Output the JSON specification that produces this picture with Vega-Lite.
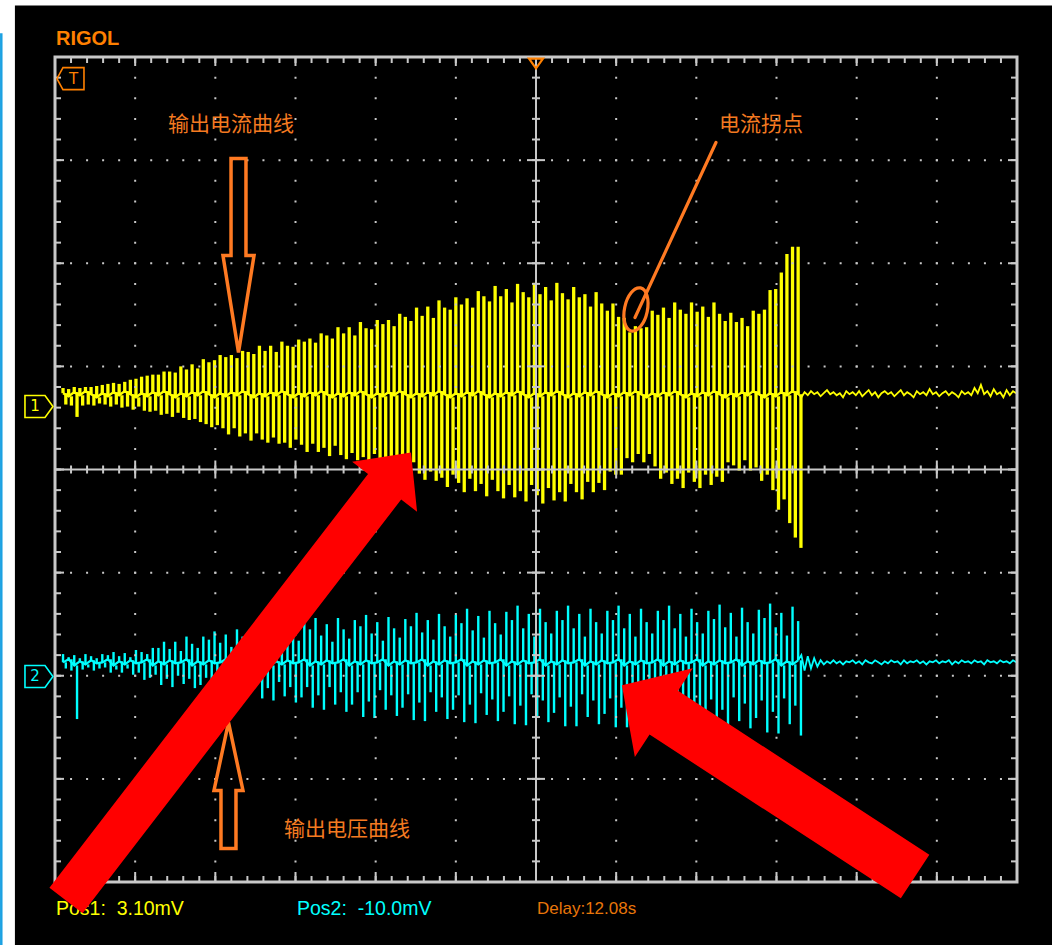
{
"$schema": "https://vega.github.io/schema/vega-lite/v6.json",
"width": 962, "height": 825,
"autosize": {"type": "none"},
"padding": {"left": 55, "top": 57, "right": 35, "bottom": 63},
"background": "white",
"config": {"view": {"stroke": null}, "axis": {"disable": true}, "legend": {"disable": true}},
"datasets": {
"ch1s": [
{"t":0.10,"b":0.74,"hi":0.79,"lo":0.63},{"t":0.17,"b":0.71,"hi":0.78,"lo":0.62},{"t":0.24,"b":0.75,"hi":0.80,"lo":0.51},{"t":0.31,"b":0.72,"hi":0.79,"lo":0.62},{"t":0.38,"b":0.76,"hi":0.80,"lo":0.63},{"t":0.45,"b":0.73,"hi":0.80,"lo":0.62},{"t":0.52,"b":0.70,"hi":0.81,"lo":0.64},
{"t":0.59,"b":0.74,"hi":0.82,"lo":0.63},{"t":0.66,"b":0.71,"hi":0.83,"lo":0.61},{"t":0.73,"b":0.75,"hi":0.84,"lo":0.63},{"t":0.80,"b":0.72,"hi":0.83,"lo":0.60},{"t":0.87,"b":0.76,"hi":0.85,"lo":0.61},{"t":0.94,"b":0.73,"hi":0.87,"lo":0.58},{"t":1.01,"b":0.70,"hi":0.88,"lo":0.61},
{"t":1.08,"b":0.74,"hi":0.90,"lo":0.57},{"t":1.15,"b":0.71,"hi":0.91,"lo":0.56},{"t":1.22,"b":0.75,"hi":0.92,"lo":0.57},{"t":1.29,"b":0.72,"hi":0.92,"lo":0.53},{"t":1.36,"b":0.76,"hi":0.95,"lo":0.54},{"t":1.43,"b":0.73,"hi":0.95,"lo":0.51},{"t":1.50,"b":0.70,"hi":0.94,"lo":0.55},
{"t":1.57,"b":0.74,"hi":1.00,"lo":0.50},{"t":1.64,"b":0.71,"hi":0.97,"lo":0.48},{"t":1.71,"b":0.75,"hi":1.02,"lo":0.49},{"t":1.78,"b":0.72,"hi":0.98,"lo":0.46},{"t":1.85,"b":0.76,"hi":1.07,"lo":0.44},{"t":1.92,"b":0.73,"hi":1.04,"lo":0.41},{"t":1.99,"b":0.70,"hi":1.06,"lo":0.43},
{"t":2.06,"b":0.74,"hi":1.11,"lo":0.40},{"t":2.13,"b":0.71,"hi":1.09,"lo":0.34},{"t":2.20,"b":0.75,"hi":1.11,"lo":0.40},{"t":2.27,"b":0.72,"hi":1.08,"lo":0.32},{"t":2.34,"b":0.76,"hi":1.15,"lo":0.35},{"t":2.41,"b":0.73,"hi":1.14,"lo":0.28},{"t":2.48,"b":0.70,"hi":1.12,"lo":0.35},
{"t":2.55,"b":0.74,"hi":1.20,"lo":0.29},{"t":2.62,"b":0.71,"hi":1.15,"lo":0.26},{"t":2.69,"b":0.75,"hi":1.20,"lo":0.31},{"t":2.76,"b":0.72,"hi":1.14,"lo":0.25},{"t":2.83,"b":0.76,"hi":1.24,"lo":0.26},{"t":2.90,"b":0.73,"hi":1.20,"lo":0.21},{"t":2.97,"b":0.70,"hi":1.19,"lo":0.29},
{"t":3.04,"b":0.74,"hi":1.26,"lo":0.24},{"t":3.11,"b":0.71,"hi":1.24,"lo":0.17},{"t":3.18,"b":0.75,"hi":1.27,"lo":0.25},{"t":3.25,"b":0.72,"hi":1.23,"lo":0.17},{"t":3.32,"b":0.76,"hi":1.32,"lo":0.21},{"t":3.39,"b":0.73,"hi":1.30,"lo":0.13},{"t":3.46,"b":0.70,"hi":1.27,"lo":0.23},
{"t":3.53,"b":0.74,"hi":1.38,"lo":0.14},{"t":3.60,"b":0.71,"hi":1.32,"lo":0.10},{"t":3.67,"b":0.75,"hi":1.38,"lo":0.16},{"t":3.74,"b":0.72,"hi":1.30,"lo":0.09},{"t":3.81,"b":0.76,"hi":1.43,"lo":0.12},{"t":3.88,"b":0.73,"hi":1.37,"lo":0.05},{"t":3.95,"b":0.70,"hi":1.36,"lo":0.15},
{"t":4.02,"b":0.74,"hi":1.45,"lo":0.09},{"t":4.09,"b":0.71,"hi":1.41,"lo":0.02},{"t":4.16,"b":0.75,"hi":1.45,"lo":0.12},{"t":4.23,"b":0.72,"hi":1.39,"lo":0.00},{"t":4.30,"b":0.76,"hi":1.51,"lo":0.06},{"t":4.37,"b":0.73,"hi":1.48,"lo":-0.06},{"t":4.44,"b":0.70,"hi":1.44,"lo":0.07},
{"t":4.51,"b":0.74,"hi":1.57,"lo":-0.04},{"t":4.58,"b":0.71,"hi":1.49,"lo":-0.10},{"t":4.65,"b":0.75,"hi":1.58,"lo":-0.02},{"t":4.72,"b":0.72,"hi":1.47,"lo":-0.11},{"t":4.79,"b":0.76,"hi":1.64,"lo":-0.08},{"t":4.86,"b":0.73,"hi":1.57,"lo":-0.17},{"t":4.93,"b":0.70,"hi":1.55,"lo":-0.05},
{"t":5.00,"b":0.74,"hi":1.67,"lo":-0.13},{"t":5.07,"b":0.71,"hi":1.60,"lo":-0.22},{"t":5.14,"b":0.75,"hi":1.66,"lo":-0.09},{"t":5.21,"b":0.72,"hi":1.57,"lo":-0.21},{"t":5.28,"b":0.76,"hi":1.73,"lo":-0.14},{"t":5.35,"b":0.73,"hi":1.68,"lo":-0.26},{"t":5.42,"b":0.70,"hi":1.63,"lo":-0.10},
{"t":5.49,"b":0.74,"hi":1.78,"lo":-0.21},{"t":5.56,"b":0.71,"hi":1.68,"lo":-0.28},{"t":5.63,"b":0.75,"hi":1.75,"lo":-0.15},{"t":5.70,"b":0.72,"hi":1.62,"lo":-0.27},{"t":5.77,"b":0.76,"hi":1.80,"lo":-0.21},{"t":5.84,"b":0.73,"hi":1.72,"lo":-0.31},{"t":5.91,"b":0.70,"hi":1.67,"lo":-0.15},
{"t":5.98,"b":0.74,"hi":1.81,"lo":-0.25},{"t":6.05,"b":0.71,"hi":1.70,"lo":-0.33},{"t":6.12,"b":0.75,"hi":1.77,"lo":-0.18},{"t":6.19,"b":0.72,"hi":1.64,"lo":-0.30},{"t":6.26,"b":0.76,"hi":1.81,"lo":-0.22},{"t":6.33,"b":0.73,"hi":1.71,"lo":-0.31},{"t":6.40,"b":0.70,"hi":1.65,"lo":-0.14},
{"t":6.47,"b":0.74,"hi":1.77,"lo":-0.22},{"t":6.54,"b":0.71,"hi":1.67,"lo":-0.29},{"t":6.61,"b":0.75,"hi":1.70,"lo":-0.12},{"t":6.68,"b":0.72,"hi":1.58,"lo":-0.22},{"t":6.75,"b":0.76,"hi":1.72,"lo":-0.13},{"t":6.82,"b":0.73,"hi":1.61,"lo":-0.20},{"t":6.89,"b":0.70,"hi":1.54,"lo":-0.02},
{"t":6.96,"b":0.74,"hi":1.61,"lo":-0.05},{"t":7.03,"b":0.71,"hi":1.48,"lo":-0.05},{"t":7.10,"b":0.75,"hi":1.47,"lo":0.11},{"t":7.17,"b":0.72,"hi":1.33,"lo":0.07},{"t":7.24,"b":0.76,"hi":1.39,"lo":0.15},{"t":7.31,"b":0.73,"hi":1.37,"lo":0.07},{"t":7.38,"b":0.70,"hi":1.38,"lo":0.15},
{"t":7.45,"b":0.74,"hi":1.54,"lo":0.03},{"t":7.52,"b":0.71,"hi":1.50,"lo":-0.09},{"t":7.59,"b":0.75,"hi":1.57,"lo":-0.03},{"t":7.66,"b":0.72,"hi":1.47,"lo":-0.14},{"t":7.73,"b":0.76,"hi":1.62,"lo":-0.09},{"t":7.80,"b":0.73,"hi":1.55,"lo":-0.18},{"t":7.87,"b":0.70,"hi":1.51,"lo":-0.03},
{"t":7.94,"b":0.74,"hi":1.62,"lo":-0.12},{"t":8.01,"b":0.71,"hi":1.53,"lo":-0.18},{"t":8.08,"b":0.75,"hi":1.58,"lo":-0.05},{"t":8.15,"b":0.72,"hi":1.48,"lo":-0.15},{"t":8.22,"b":0.76,"hi":1.62,"lo":-0.07},{"t":8.29,"b":0.73,"hi":1.51,"lo":-0.12},{"t":8.36,"b":0.70,"hi":1.44,"lo":0.07},
{"t":8.43,"b":0.74,"hi":1.52,"lo":0.04},{"t":8.50,"b":0.71,"hi":1.43,"lo":-0.01},{"t":8.57,"b":0.75,"hi":1.47,"lo":0.09},{"t":8.64,"b":0.72,"hi":1.39,"lo":-0.01},{"t":8.71,"b":0.76,"hi":1.54,"lo":0.02},{"t":8.78,"b":0.73,"hi":1.51,"lo":-0.11},{"t":8.85,"b":0.70,"hi":1.55,"lo":-0.05},
{"t":8.92,"b":0.74,"hi":1.74,"lo":-0.20},{"t":8.99,"b":0.71,"hi":1.75,"lo":-0.39},{"t":9.06,"b":0.75,"hi":1.91,"lo":-0.29},{"t":9.13,"b":0.72,"hi":2.09,"lo":-0.52},{"t":9.20,"b":0.76,"hi":2.16,"lo":-0.66},{"t":9.27,"b":0.73,"hi":2.16,"lo":-0.76}
],
"ch1n": [
{"t":9.27,"v":0.73},{"t":9.31,"v":0.70},{"t":9.35,"v":0.75},{"t":9.39,"v":0.72},{"t":9.43,"v":0.76},{"t":9.47,"v":0.73},{"t":9.51,"v":0.75},{"t":9.55,"v":0.71},{"t":9.59,"v":0.74},{"t":9.63,"v":0.77},{"t":9.67,"v":0.73},{"t":9.71,"v":0.75},{"t":9.75,"v":0.72},{"t":9.79,"v":0.74},{"t":9.83,"v":0.70},{"t":9.87,"v":0.76},{"t":9.91,"v":0.73},{"t":9.95,"v":0.75},{"t":9.99,"v":0.72},
{"t":10.03,"v":0.76},{"t":10.07,"v":0.71},{"t":10.11,"v":0.74},{"t":10.15,"v":0.77},{"t":10.19,"v":0.72},{"t":10.23,"v":0.75},{"t":10.27,"v":0.70},{"t":10.31,"v":0.74},{"t":10.35,"v":0.76},{"t":10.39,"v":0.73},{"t":10.43,"v":0.75},{"t":10.47,"v":0.71},{"t":10.51,"v":0.74},{"t":10.55,"v":0.77},{"t":10.59,"v":0.72},{"t":10.63,"v":0.75},{"t":10.67,"v":0.73},{"t":10.71,"v":0.70},{"t":10.75,"v":0.76},{"t":10.79,"v":0.73},{"t":10.83,"v":0.75},{"t":10.87,"v":0.72},{"t":10.91,"v":0.78},{"t":10.95,"v":0.73},{"t":10.99,"v":0.75},
{"t":11.03,"v":0.71},{"t":11.07,"v":0.74},{"t":11.11,"v":0.76},{"t":11.15,"v":0.72},{"t":11.19,"v":0.75},{"t":11.23,"v":0.73},{"t":11.27,"v":0.70},{"t":11.31,"v":0.76},{"t":11.35,"v":0.73},{"t":11.39,"v":0.75},{"t":11.43,"v":0.72},{"t":11.47,"v":0.79},{"t":11.51,"v":0.74},{"t":11.55,"v":0.82},{"t":11.59,"v":0.73},{"t":11.63,"v":0.76},{"t":11.67,"v":0.71},{"t":11.71,"v":0.78},{"t":11.75,"v":0.73},{"t":11.79,"v":0.75},{"t":11.83,"v":0.70},{"t":11.87,"v":0.77},{"t":11.91,"v":0.72},{"t":11.95,"v":0.76},{"t":11.99,"v":0.74}
],
"ch2s": [
{"t":0.10,"b":-1.87,"hi":-1.79,"lo":-1.93},{"t":0.17,"b":-1.84,"hi":-1.82,"lo":-1.95},{"t":0.24,"b":-1.90,"hi":-1.80,"lo":-2.42},{"t":0.31,"b":-1.86,"hi":-1.83,"lo":-1.94},{"t":0.38,"b":-1.89,"hi":-1.79,"lo":-1.92},{"t":0.45,"b":-1.85,"hi":-1.81,"lo":-1.95},{"t":0.52,"b":-1.88,"hi":-1.83,"lo":-1.93},
{"t":0.59,"b":-1.87,"hi":-1.79,"lo":-1.92},{"t":0.66,"b":-1.84,"hi":-1.80,"lo":-1.97},{"t":0.73,"b":-1.90,"hi":-1.77,"lo":-1.94},{"t":0.80,"b":-1.86,"hi":-1.81,"lo":-1.97},{"t":0.87,"b":-1.89,"hi":-1.78,"lo":-1.93},{"t":0.94,"b":-1.85,"hi":-1.82,"lo":-1.99},{"t":1.01,"b":-1.88,"hi":-1.75,"lo":-1.97},
{"t":1.08,"b":-1.87,"hi":-1.77,"lo":-2.04},{"t":1.15,"b":-1.84,"hi":-1.79,"lo":-2.02},{"t":1.22,"b":-1.90,"hi":-1.73,"lo":-1.99},{"t":1.29,"b":-1.86,"hi":-1.73,"lo":-2.09},{"t":1.36,"b":-1.89,"hi":-1.67,"lo":-2.03},{"t":1.43,"b":-1.85,"hi":-1.74,"lo":-2.11},{"t":1.50,"b":-1.88,"hi":-1.67,"lo":-2.00},
{"t":1.57,"b":-1.87,"hi":-1.76,"lo":-2.08},{"t":1.64,"b":-1.84,"hi":-1.62,"lo":-2.03},{"t":1.71,"b":-1.90,"hi":-1.69,"lo":-2.12},{"t":1.78,"b":-1.86,"hi":-1.73,"lo":-2.09},{"t":1.85,"b":-1.89,"hi":-1.62,"lo":-2.02},{"t":1.92,"b":-1.85,"hi":-1.65,"lo":-2.15},{"t":1.99,"b":-1.88,"hi":-1.57,"lo":-2.07},
{"t":2.06,"b":-1.87,"hi":-1.68,"lo":-2.17},{"t":2.13,"b":-1.84,"hi":-1.60,"lo":-2.02},{"t":2.20,"b":-1.90,"hi":-1.72,"lo":-2.13},{"t":2.27,"b":-1.86,"hi":-1.55,"lo":-2.06},{"t":2.34,"b":-1.89,"hi":-1.62,"lo":-2.17},{"t":2.41,"b":-1.85,"hi":-1.69,"lo":-2.13},{"t":2.48,"b":-1.88,"hi":-1.54,"lo":-2.06},
{"t":2.55,"b":-1.87,"hi":-1.59,"lo":-2.22},{"t":2.62,"b":-1.84,"hi":-1.49,"lo":-2.12},{"t":2.69,"b":-1.90,"hi":-1.64,"lo":-2.24},{"t":2.76,"b":-1.86,"hi":-1.54,"lo":-2.06},{"t":2.83,"b":-1.89,"hi":-1.69,"lo":-2.20},{"t":2.90,"b":-1.85,"hi":-1.49,"lo":-2.11},{"t":2.97,"b":-1.88,"hi":-1.59,"lo":-2.26},
{"t":3.04,"b":-1.87,"hi":-1.66,"lo":-2.21},{"t":3.11,"b":-1.84,"hi":-1.49,"lo":-2.11},{"t":3.18,"b":-1.90,"hi":-1.55,"lo":-2.31},{"t":3.25,"b":-1.86,"hi":-1.44,"lo":-2.19},{"t":3.32,"b":-1.89,"hi":-1.61,"lo":-2.33},{"t":3.39,"b":-1.85,"hi":-1.50,"lo":-2.11},{"t":3.46,"b":-1.88,"hi":-1.67,"lo":-2.28},
{"t":3.53,"b":-1.87,"hi":-1.44,"lo":-2.16},{"t":3.60,"b":-1.84,"hi":-1.55,"lo":-2.35},{"t":3.67,"b":-1.90,"hi":-1.64,"lo":-2.28},{"t":3.74,"b":-1.86,"hi":-1.46,"lo":-2.16},{"t":3.81,"b":-1.89,"hi":-1.52,"lo":-2.40},{"t":3.88,"b":-1.85,"hi":-1.41,"lo":-2.25},{"t":3.95,"b":-1.88,"hi":-1.59,"lo":-2.41},
{"t":4.02,"b":-1.87,"hi":-1.48,"lo":-2.14},{"t":4.09,"b":-1.84,"hi":-1.66,"lo":-2.33},{"t":4.16,"b":-1.90,"hi":-1.43,"lo":-2.19},{"t":4.23,"b":-1.86,"hi":-1.54,"lo":-2.39},{"t":4.30,"b":-1.89,"hi":-1.63,"lo":-2.31},{"t":4.37,"b":-1.85,"hi":-1.45,"lo":-2.18},{"t":4.44,"b":-1.88,"hi":-1.52,"lo":-2.43},
{"t":4.51,"b":-1.87,"hi":-1.39,"lo":-2.26},{"t":4.58,"b":-1.84,"hi":-1.58,"lo":-2.44},{"t":4.65,"b":-1.90,"hi":-1.46,"lo":-2.16},{"t":4.72,"b":-1.86,"hi":-1.65,"lo":-2.35},{"t":4.79,"b":-1.89,"hi":-1.40,"lo":-2.21},{"t":4.86,"b":-1.85,"hi":-1.52,"lo":-2.42},{"t":4.93,"b":-1.88,"hi":-1.62,"lo":-2.33},
{"t":5.00,"b":-1.87,"hi":-1.41,"lo":-2.19},{"t":5.07,"b":-1.84,"hi":-1.49,"lo":-2.45},{"t":5.14,"b":-1.90,"hi":-1.35,"lo":-2.28},{"t":5.21,"b":-1.86,"hi":-1.56,"lo":-2.46},{"t":5.28,"b":-1.89,"hi":-1.42,"lo":-2.17},{"t":5.35,"b":-1.85,"hi":-1.63,"lo":-2.38},{"t":5.42,"b":-1.88,"hi":-1.37,"lo":-2.23},
{"t":5.49,"b":-1.87,"hi":-1.49,"lo":-2.44},{"t":5.56,"b":-1.84,"hi":-1.60,"lo":-2.35},{"t":5.63,"b":-1.90,"hi":-1.38,"lo":-2.20},{"t":5.70,"b":-1.86,"hi":-1.46,"lo":-2.47},{"t":5.77,"b":-1.89,"hi":-1.32,"lo":-2.29},{"t":5.84,"b":-1.85,"hi":-1.54,"lo":-2.48},{"t":5.91,"b":-1.88,"hi":-1.40,"lo":-2.18},
{"t":5.98,"b":-1.87,"hi":-1.62,"lo":-2.39},{"t":6.05,"b":-1.84,"hi":-1.35,"lo":-2.24},{"t":6.12,"b":-1.90,"hi":-1.48,"lo":-2.45},{"t":6.19,"b":-1.86,"hi":-1.59,"lo":-2.36},{"t":6.26,"b":-1.89,"hi":-1.37,"lo":-2.21},{"t":6.33,"b":-1.85,"hi":-1.46,"lo":-2.49},{"t":6.40,"b":-1.88,"hi":-1.32,"lo":-2.30},
{"t":6.47,"b":-1.87,"hi":-1.54,"lo":-2.49},{"t":6.54,"b":-1.84,"hi":-1.40,"lo":-2.18},{"t":6.61,"b":-1.90,"hi":-1.62,"lo":-2.40},{"t":6.68,"b":-1.86,"hi":-1.35,"lo":-2.24},{"t":6.75,"b":-1.89,"hi":-1.48,"lo":-2.47},{"t":6.82,"b":-1.85,"hi":-1.59,"lo":-2.37},{"t":6.89,"b":-1.88,"hi":-1.37,"lo":-2.22},
{"t":6.96,"b":-1.87,"hi":-1.46,"lo":-2.50},{"t":7.03,"b":-1.84,"hi":-1.32,"lo":-2.31},{"t":7.10,"b":-1.90,"hi":-1.54,"lo":-2.50},{"t":7.17,"b":-1.86,"hi":-1.40,"lo":-2.19},{"t":7.24,"b":-1.89,"hi":-1.62,"lo":-2.41},{"t":7.31,"b":-1.85,"hi":-1.35,"lo":-2.25},{"t":7.38,"b":-1.88,"hi":-1.48,"lo":-2.48},
{"t":7.45,"b":-1.87,"hi":-1.59,"lo":-2.38},{"t":7.52,"b":-1.84,"hi":-1.37,"lo":-2.23},{"t":7.59,"b":-1.90,"hi":-1.46,"lo":-2.52},{"t":7.66,"b":-1.86,"hi":-1.32,"lo":-2.33},{"t":7.73,"b":-1.89,"hi":-1.54,"lo":-2.52},{"t":7.80,"b":-1.85,"hi":-1.40,"lo":-2.20},{"t":7.87,"b":-1.88,"hi":-1.62,"lo":-2.42},
{"t":7.94,"b":-1.87,"hi":-1.35,"lo":-2.27},{"t":8.01,"b":-1.84,"hi":-1.48,"lo":-2.50},{"t":8.08,"b":-1.90,"hi":-1.59,"lo":-2.40},{"t":8.15,"b":-1.86,"hi":-1.37,"lo":-2.23},{"t":8.22,"b":-1.89,"hi":-1.45,"lo":-2.53},{"t":8.29,"b":-1.85,"hi":-1.31,"lo":-2.33},{"t":8.36,"b":-1.88,"hi":-1.53,"lo":-2.53},
{"t":8.43,"b":-1.87,"hi":-1.39,"lo":-2.21},{"t":8.50,"b":-1.84,"hi":-1.62,"lo":-2.44},{"t":8.57,"b":-1.90,"hi":-1.34,"lo":-2.27},{"t":8.64,"b":-1.86,"hi":-1.48,"lo":-2.51},{"t":8.71,"b":-1.89,"hi":-1.59,"lo":-2.41},{"t":8.78,"b":-1.85,"hi":-1.36,"lo":-2.24},{"t":8.85,"b":-1.88,"hi":-1.44,"lo":-2.55},
{"t":8.92,"b":-1.87,"hi":-1.30,"lo":-2.35},{"t":8.99,"b":-1.84,"hi":-1.53,"lo":-2.56},{"t":9.06,"b":-1.90,"hi":-1.39,"lo":-2.22},{"t":9.13,"b":-1.86,"hi":-1.61,"lo":-2.47},{"t":9.20,"b":-1.89,"hi":-1.33,"lo":-2.29},{"t":9.27,"b":-1.85,"hi":-1.47,"lo":-2.58}
],
"ch2n": [
{"t":9.27,"v":-1.85},{"t":9.31,"v":-1.80},{"t":9.35,"v":-1.95},{"t":9.39,"v":-1.81},{"t":9.43,"v":-1.93},{"t":9.47,"v":-1.83},{"t":9.51,"v":-1.91},{"t":9.55,"v":-1.85},{"t":9.59,"v":-1.89},{"t":9.63,"v":-1.86},{"t":9.67,"v":-1.88},{"t":9.71,"v":-1.85},{"t":9.75,"v":-1.88},{"t":9.79,"v":-1.86},{"t":9.83,"v":-1.89},{"t":9.87,"v":-1.86},{"t":9.91,"v":-1.87},{"t":9.95,"v":-1.85},{"t":9.99,"v":-1.88},
{"t":10.03,"v":-1.86},{"t":10.07,"v":-1.89},{"t":10.11,"v":-1.85},{"t":10.15,"v":-1.87},{"t":10.19,"v":-1.88},{"t":10.23,"v":-1.85},{"t":10.27,"v":-1.87},{"t":10.31,"v":-1.89},{"t":10.35,"v":-1.86},{"t":10.39,"v":-1.88},{"t":10.43,"v":-1.85},{"t":10.47,"v":-1.87},{"t":10.51,"v":-1.86},{"t":10.55,"v":-1.89},{"t":10.59,"v":-1.85},{"t":10.63,"v":-1.88},{"t":10.67,"v":-1.86},{"t":10.71,"v":-1.87},{"t":10.75,"v":-1.85},{"t":10.79,"v":-1.88},{"t":10.83,"v":-1.86},{"t":10.87,"v":-1.89},{"t":10.91,"v":-1.86},{"t":10.95,"v":-1.87},{"t":10.99,"v":-1.85},
{"t":11.03,"v":-1.88},{"t":11.07,"v":-1.86},{"t":11.11,"v":-1.87},{"t":11.15,"v":-1.85},{"t":11.19,"v":-1.89},{"t":11.23,"v":-1.86},{"t":11.27,"v":-1.88},{"t":11.31,"v":-1.85},{"t":11.35,"v":-1.87},{"t":11.39,"v":-1.86},{"t":11.43,"v":-1.88},{"t":11.47,"v":-1.85},{"t":11.51,"v":-1.87},{"t":11.55,"v":-1.86},{"t":11.59,"v":-1.89},{"t":11.63,"v":-1.85},{"t":11.67,"v":-1.87},{"t":11.71,"v":-1.86},{"t":11.75,"v":-1.88},{"t":11.79,"v":-1.85},{"t":11.83,"v":-1.87},{"t":11.87,"v":-1.86},{"t":11.91,"v":-1.88},{"t":11.95,"v":-1.85},{"t":11.99,"v":-1.87}
],
"xminor": [{"t":0},{"t":0.2},{"t":0.4},{"t":0.6},{"t":0.8},{"t":1},{"t":1.2},{"t":1.4},{"t":1.6},{"t":1.8},{"t":2},{"t":2.2},{"t":2.4},{"t":2.6},{"t":2.8},{"t":3},{"t":3.2},{"t":3.4},{"t":3.6},{"t":3.8},{"t":4},{"t":4.2},{"t":4.4},{"t":4.6},{"t":4.8},{"t":5},{"t":5.2},{"t":5.4},{"t":5.6},{"t":5.8},{"t":6},{"t":6.2},{"t":6.4},{"t":6.6},{"t":6.8},{"t":7},{"t":7.2},{"t":7.4},{"t":7.6},{"t":7.8},{"t":8},{"t":8.2},{"t":8.4},{"t":8.6},{"t":8.8},{"t":9},{"t":9.2},{"t":9.4},{"t":9.6},{"t":9.8},{"t":10},{"t":10.2},{"t":10.4},{"t":10.6},{"t":10.8},{"t":11},{"t":11.2},{"t":11.4},{"t":11.6},{"t":11.8},{"t":12}],
"xmajor": [{"t":0},{"t":1},{"t":2},{"t":3},{"t":4},{"t":5},{"t":6},{"t":7},{"t":8},{"t":9},{"t":10},{"t":11},{"t":12}],
"yminor": [{"v":-4},{"v":-3.8},{"v":-3.6},{"v":-3.4},{"v":-3.2},{"v":-3},{"v":-2.8},{"v":-2.6},{"v":-2.4},{"v":-2.2},{"v":-2},{"v":-1.8},{"v":-1.6},{"v":-1.4},{"v":-1.2},{"v":-1},{"v":-0.8},{"v":-0.6},{"v":-0.4},{"v":-0.2},{"v":0},{"v":0.2},{"v":0.4},{"v":0.6},{"v":0.8},{"v":1},{"v":1.2},{"v":1.4},{"v":1.6},{"v":1.8},{"v":2},{"v":2.2},{"v":2.4},{"v":2.6},{"v":2.8},{"v":3},{"v":3.2},{"v":3.4},{"v":3.6},{"v":3.8},{"v":4}],
"ymajor": [{"v":-4},{"v":-3},{"v":-2},{"v":-1},{"v":0},{"v":1},{"v":2},{"v":3},{"v":4}]
},
"layer": [
{"data":{"values":[{"t":-0.5,"t2":12.5,"v":4.5,"v2":-4.7}]},"mark":{"type":"rect","color":"#000000"},
 "encoding":{"x":{"field":"t","type":"quantitative","scale":{"domain":[0,12]}},"x2":{"field":"t2"},"y":{"field":"v","type":"quantitative","scale":{"domain":[-4,4]}},"y2":{"field":"v2"}}},
{"data":{"values":[{"t":-0.67,"v":4.23,"v2":-4.7}]},"mark":{"type":"rule","color":"#1ba1e2","strokeWidth":2.5},
 "encoding":{"x":{"field":"t","type":"quantitative","scale":{"domain":[0,12]}},"y":{"field":"v","type":"quantitative","scale":{"domain":[-4,4]}},"y2":{"field":"v2"}}},

{"data":{"name":"ch1s"},"mark":{"type":"line","color":"#ffff00","strokeWidth":2.4},
 "encoding":{"x":{"field":"t","type":"quantitative","scale":{"domain":[0,12]}},"y":{"field":"b","type":"quantitative","scale":{"domain":[-4,4]}}}},
{"data":{"name":"ch1n"},"mark":{"type":"line","color":"#ffff00","strokeWidth":1.8},
 "encoding":{"x":{"field":"t","type":"quantitative","scale":{"domain":[0,12]}},"y":{"field":"v","type":"quantitative","scale":{"domain":[-4,4]}}}},
{"data":{"name":"ch1s"},"mark":{"type":"rule","color":"#ffff00","strokeWidth":3.3},
 "encoding":{"x":{"field":"t","type":"quantitative","scale":{"domain":[0,12]}},"y":{"field":"hi","type":"quantitative","scale":{"domain":[-4,4]}},"y2":{"field":"b"}}},
{"data":{"name":"ch1s"},"mark":{"type":"rule","color":"#ffff00","strokeWidth":3.3,"xOffset":2.8},
 "encoding":{"x":{"field":"t","type":"quantitative","scale":{"domain":[0,12]}},"y":{"field":"lo","type":"quantitative","scale":{"domain":[-4,4]}},"y2":{"field":"b"}}},

{"data":{"name":"ch2s"},"mark":{"type":"line","color":"#00ffff","strokeWidth":2.2},
 "encoding":{"x":{"field":"t","type":"quantitative","scale":{"domain":[0,12]}},"y":{"field":"b","type":"quantitative","scale":{"domain":[-4,4]}}}},
{"data":{"name":"ch2n"},"mark":{"type":"line","color":"#00ffff","strokeWidth":1.8},
 "encoding":{"x":{"field":"t","type":"quantitative","scale":{"domain":[0,12]}},"y":{"field":"v","type":"quantitative","scale":{"domain":[-4,4]}}}},
{"data":{"name":"ch2s"},"mark":{"type":"rule","color":"#00ffff","strokeWidth":2.4},
 "encoding":{"x":{"field":"t","type":"quantitative","scale":{"domain":[0,12]}},"y":{"field":"hi","type":"quantitative","scale":{"domain":[-4,4]}},"y2":{"field":"b"}}},
{"data":{"name":"ch2s"},"mark":{"type":"rule","color":"#00ffff","strokeWidth":2.4,"xOffset":2.8},
 "encoding":{"x":{"field":"t","type":"quantitative","scale":{"domain":[0,12]}},"y":{"field":"lo","type":"quantitative","scale":{"domain":[-4,4]}},"y2":{"field":"b"}}},

{"data":{"name":"xmajor"},"transform":[{"filter":"datum.t > 0 && datum.t < 12 && datum.t != 6"}],
 "mark":{"type":"rule","color":"#c8c8c8","strokeWidth":2,"strokeDash":[2,18.625],"strokeDashOffset":1},
 "encoding":{"x":{"field":"t","type":"quantitative","scale":{"domain":[0,12]}}}},
{"data":{"name":"ymajor"},"transform":[{"filter":"datum.v > -4 && datum.v < 4 && datum.v != 0"}],
 "mark":{"type":"rule","color":"#c8c8c8","strokeWidth":2,"strokeDash":[2,14.033],"strokeDashOffset":1},
 "encoding":{"y":{"field":"v","type":"quantitative","scale":{"domain":[-4,4]}}}},
{"data":{"values":[{"t":6}]},"mark":{"type":"rule","color":"#c8c8c8","strokeWidth":2},
 "encoding":{"x":{"field":"t","type":"quantitative","scale":{"domain":[0,12]}}}},
{"data":{"values":[{"v":0}]},"mark":{"type":"rule","color":"#c8c8c8","strokeWidth":2},
 "encoding":{"y":{"field":"v","type":"quantitative","scale":{"domain":[-4,4]}}}},
{"data":{"values":[{"t":0,"t2":12,"v":-4,"v2":4}]},"mark":{"type":"rect","filled":false,"color":"#c8c8c8","strokeWidth":3},
 "encoding":{"x":{"field":"t","type":"quantitative","scale":{"domain":[0,12]}},"x2":{"field":"t2"},"y":{"field":"v","type":"quantitative","scale":{"domain":[-4,4]}},"y2":{"field":"v2"}}},

{"data":{"name":"xminor"},"mark":{"type":"rule","color":"#c8c8c8","strokeWidth":2,"y2Offset":6},
 "encoding":{"x":{"field":"t","type":"quantitative","scale":{"domain":[0,12]}},"y":{"datum":4,"type":"quantitative","scale":{"domain":[-4,4]}},"y2":{"datum":4}}},
{"data":{"name":"xmajor"},"mark":{"type":"rule","color":"#c8c8c8","strokeWidth":2,"y2Offset":9},
 "encoding":{"x":{"field":"t","type":"quantitative","scale":{"domain":[0,12]}},"y":{"datum":4,"type":"quantitative","scale":{"domain":[-4,4]}},"y2":{"datum":4}}},
{"data":{"name":"xminor"},"mark":{"type":"rule","color":"#c8c8c8","strokeWidth":2,"y2Offset":-6},
 "encoding":{"x":{"field":"t","type":"quantitative","scale":{"domain":[0,12]}},"y":{"datum":-4,"type":"quantitative","scale":{"domain":[-4,4]}},"y2":{"datum":-4}}},
{"data":{"name":"xmajor"},"mark":{"type":"rule","color":"#c8c8c8","strokeWidth":2,"y2Offset":-10},
 "encoding":{"x":{"field":"t","type":"quantitative","scale":{"domain":[0,12]}},"y":{"datum":-4,"type":"quantitative","scale":{"domain":[-4,4]}},"y2":{"datum":-4}}},
{"data":{"name":"xminor"},"mark":{"type":"rule","color":"#c8c8c8","strokeWidth":2,"yOffset":-4,"y2Offset":4},
 "encoding":{"x":{"field":"t","type":"quantitative","scale":{"domain":[0,12]}},"y":{"datum":0,"type":"quantitative","scale":{"domain":[-4,4]}},"y2":{"datum":0}}},
{"data":{"name":"xmajor"},"mark":{"type":"rule","color":"#c8c8c8","strokeWidth":2,"yOffset":-9,"y2Offset":9},
 "encoding":{"x":{"field":"t","type":"quantitative","scale":{"domain":[0,12]}},"y":{"datum":0,"type":"quantitative","scale":{"domain":[-4,4]}},"y2":{"datum":0}}},
{"data":{"name":"yminor"},"mark":{"type":"rule","color":"#c8c8c8","strokeWidth":2,"x2Offset":6},
 "encoding":{"y":{"field":"v","type":"quantitative","scale":{"domain":[-4,4]}},"x":{"datum":0,"type":"quantitative","scale":{"domain":[0,12]}},"x2":{"datum":0}}},
{"data":{"name":"ymajor"},"mark":{"type":"rule","color":"#c8c8c8","strokeWidth":2,"x2Offset":9},
 "encoding":{"y":{"field":"v","type":"quantitative","scale":{"domain":[-4,4]}},"x":{"datum":0,"type":"quantitative","scale":{"domain":[0,12]}},"x2":{"datum":0}}},
{"data":{"name":"yminor"},"mark":{"type":"rule","color":"#c8c8c8","strokeWidth":2,"x2Offset":-6},
 "encoding":{"y":{"field":"v","type":"quantitative","scale":{"domain":[-4,4]}},"x":{"datum":12,"type":"quantitative","scale":{"domain":[0,12]}},"x2":{"datum":12}}},
{"data":{"name":"ymajor"},"mark":{"type":"rule","color":"#c8c8c8","strokeWidth":2,"x2Offset":-9},
 "encoding":{"y":{"field":"v","type":"quantitative","scale":{"domain":[-4,4]}},"x":{"datum":12,"type":"quantitative","scale":{"domain":[0,12]}},"x2":{"datum":12}}},
{"data":{"name":"yminor"},"mark":{"type":"rule","color":"#c8c8c8","strokeWidth":2,"xOffset":-4,"x2Offset":4},
 "encoding":{"y":{"field":"v","type":"quantitative","scale":{"domain":[-4,4]}},"x":{"datum":6,"type":"quantitative","scale":{"domain":[0,12]}},"x2":{"datum":6}}},
{"data":{"name":"ymajor"},"mark":{"type":"rule","color":"#c8c8c8","strokeWidth":2,"xOffset":-9,"x2Offset":9},
 "encoding":{"y":{"field":"v","type":"quantitative","scale":{"domain":[-4,4]}},"x":{"datum":6,"type":"quantitative","scale":{"domain":[0,12]}},"x2":{"datum":6}}},

{"data":{"values":[{"t":6,"v":3.937}]},"mark":{"type":"point","shape":"M-1,-0.7L1,-0.7L0,0.7Z","size":196,"filled":false,"color":"#ff8000","strokeWidth":2.2,"opacity":1},
 "encoding":{"x":{"field":"t","type":"quantitative","scale":{"domain":[0,12]}},"y":{"field":"v","type":"quantitative","scale":{"domain":[-4,4]}}}},
{"data":{"values":[{"t":0.193,"v":3.79}]},"mark":{"type":"point","shape":"M1,-0.815L-0.556,-0.815L-1,0L-0.556,0.815L1,0.815Z","size":729,"filled":false,"color":"#ff8000","strokeWidth":1.6,"opacity":1},
 "encoding":{"x":{"field":"t","type":"quantitative","scale":{"domain":[0,12]}},"y":{"field":"v","type":"quantitative","scale":{"domain":[-4,4]}}}},
{"data":{"values":[{"t":-0.2,"v":0.611}]},"mark":{"type":"point","shape":"M-1,-0.786L0.43,-0.786L1,0L0.43,0.786L-1,0.786Z","size":784,"filled":false,"color":"#ffff00","strokeWidth":1.6,"opacity":1},
 "encoding":{"x":{"field":"t","type":"quantitative","scale":{"domain":[0,12]}},"y":{"field":"v","type":"quantitative","scale":{"domain":[-4,4]}}}},
{"data":{"values":[{"t":-0.2,"v":-2.007}]},"mark":{"type":"point","shape":"M-1,-0.786L0.43,-0.786L1,0L0.43,0.786L-1,0.786Z","size":784,"filled":false,"color":"#00ffff","strokeWidth":1.6,"opacity":1},
 "encoding":{"x":{"field":"t","type":"quantitative","scale":{"domain":[0,12]}},"y":{"field":"v","type":"quantitative","scale":{"domain":[-4,4]}}}},
{"data":{"values":[{"t":0.231,"v":3.79,"label":"T","c":"#ff8000"},{"t":-0.249,"v":0.611,"label":"1","c":"#ffff00"},{"t":-0.249,"v":-2.007,"label":"2","c":"#00ffff"}]},
 "mark":{"type":"text","font":"DejaVu Sans","fontSize":15,"align":"center","baseline":"middle"},
 "encoding":{"x":{"field":"t","type":"quantitative","scale":{"domain":[0,12]}},"y":{"field":"v","type":"quantitative","scale":{"domain":[-4,4]}},"text":{"field":"label"},"color":{"field":"c","type":"nominal","scale":null}}},

{"data":{"values":[{"t":8.245,"v":3.171,"t2":7.235,"v2":1.474}]},"mark":{"type":"rule","color":"#ff7a22","strokeWidth":3.2,"strokeCap":"round"},
 "encoding":{"x":{"field":"t","type":"quantitative","scale":{"domain":[0,12]}},"y":{"field":"v","type":"quantitative","scale":{"domain":[-4,4]}},"x2":{"field":"t2"},"y2":{"field":"v2"}}},
{"data":{"values":[{"t":7.247,"v":1.552}]},"mark":{"type":"point","shape":"M0,-1C0.287,-1 0.52,-0.552 0.52,0C0.52,0.552 0.287,1 0,1C-0.287,1 -0.52,0.552 -0.52,0C-0.52,-0.552 -0.287,-1 0,-1Z","size":1936,"angle":12,"filled":false,"color":"#ff7a22","strokeWidth":3.2,"opacity":1},
 "encoding":{"x":{"field":"t","type":"quantitative","scale":{"domain":[0,12]}},"y":{"field":"v","type":"quantitative","scale":{"domain":[-4,4]}}}},
{"data":{"values":[{"t":2.289,"v":2.075}]},"mark":{"type":"point","shape":"M-1,-0.077L0,-0.077L0,-0.16L1,0L0,0.16L0,0.077L-1,0.077Z","size":37636,"angle":90,"filled":false,"color":"#ff7a22","strokeWidth":3.5,"opacity":1},
 "encoding":{"x":{"field":"t","type":"quantitative","scale":{"domain":[0,12]}},"y":{"field":"v","type":"quantitative","scale":{"domain":[-4,4]}}}},
{"data":{"values":[{"t":2.164,"v":-3.064}]},"mark":{"type":"point","shape":"M-1,-0.119L-0.079,-0.119L-0.079,-0.23L1,0L-0.079,0.23L-0.079,0.119L-1,0.119Z","size":15876,"angle":270,"filled":false,"color":"#ff7a22","strokeWidth":3.5,"opacity":1},
 "encoding":{"x":{"field":"t","type":"quantitative","scale":{"domain":[0,12]}},"y":{"field":"v","type":"quantitative","scale":{"domain":[-4,4]}}}},
{"data":{"values":[{"t":2.195,"v":3.345,"label":"输出电流曲线"},{"t":8.806,"v":3.345,"label":"电流拐点"},{"t":3.642,"v":-3.5,"label":"输出电压曲线"}]},
 "mark":{"type":"text","font":"Noto Sans CJK SC","fontSize":21,"color":"#f47a20","align":"center","baseline":"middle"},
 "encoding":{"x":{"field":"t","type":"quantitative","scale":{"domain":[0,12]}},"y":{"field":"v","type":"quantitative","scale":{"domain":[-4,4]}},"text":{"field":"label"}}},
{"data":{"values":[{"t":0.012,"v":4.17,"label":"RIGOL"}]},
 "mark":{"type":"text","font":"Liberation Sans","fontWeight":"bold","fontSize":20,"color":"#ff8000","align":"left","baseline":"middle"},
 "encoding":{"x":{"field":"t","type":"quantitative","scale":{"domain":[0,12]}},"y":{"field":"v","type":"quantitative","scale":{"domain":[-4,4]}},"text":{"field":"label"}}},
{"data":{"values":[{"t":0.012,"v":-4.257,"label":"Pos1:\u00a0 3.10mV","c":"#ffff00","s":19.5},{"t":3.019,"v":-4.257,"label":"Pos2:\u00a0 -10.0mV","c":"#00ffff","s":19.5},{"t":6.012,"v":-4.257,"label":"Delay:12.08s","c":"#e8760a","s":17}]},
 "mark":{"type":"text","font":"Liberation Sans","align":"left","baseline":"middle"},
 "encoding":{"x":{"field":"t","type":"quantitative","scale":{"domain":[0,12]}},"y":{"field":"v","type":"quantitative","scale":{"domain":[-4,4]}},"text":{"field":"label"},"color":{"field":"c","type":"nominal","scale":null},"size":{"field":"s","type":"quantitative","scale":null}}},

{"data":{"values":[{"t":2.289,"v":-2.007}]},"mark":{"type":"point","shape":"M-1,-0.074L0.847,-0.074L0.847,-0.145L1,0L0.847,0.145L0.847,0.074L-1,0.074Z","size":319677,"angle":307.6,"filled":true,"color":"#ff0000","strokeWidth":0,"opacity":1},
 "encoding":{"x":{"field":"t","type":"quantitative","scale":{"domain":[0,12]}},"y":{"field":"v","type":"quantitative","scale":{"domain":[-4,4]}}}},
{"data":{"values":[{"t":8.90,"v":-3.02}]},"mark":{"type":"point","shape":"M-1,-0.149L0.714,-0.149L0.714,-0.303L1,0L0.714,0.303L0.714,0.149L-1,0.149Z","size":122500,"angle":213.1,"filled":true,"color":"#ff0000","strokeWidth":0,"opacity":1},
 "encoding":{"x":{"field":"t","type":"quantitative","scale":{"domain":[0,12]}},"y":{"field":"v","type":"quantitative","scale":{"domain":[-4,4]}}}}
]
}
